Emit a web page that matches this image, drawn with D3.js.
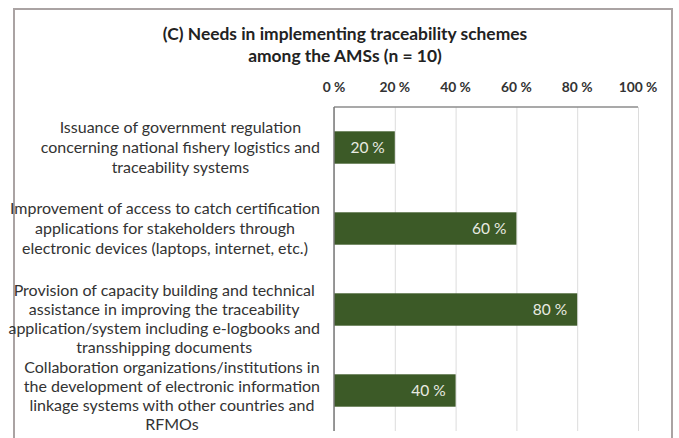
<!DOCTYPE html>
<html>
<head>
<meta charset="utf-8">
<script src="https://cdn.jsdelivr.net/npm/d3@7"></script>
<style>
  body { margin: 0; background: #fff; }
  svg { display: block; font-family: Lato, "Open Sans", sans-serif; }
  .grid line { stroke: #dcdcdc; stroke-width: 1; }
  .cat-label { fill: #333; font-size: 16px; }
  .tick-label { fill: #333; font-size: 13.8px; font-weight: bold; }
  .bar-label { fill: #e9ebe2; font-size: 15.5px; }
  .title { fill: #222; font-size: 17.4px; font-weight: bold; }
</style>
</head>
<body>
<div id="chart"></div>
<script>

// Chart data
var categories = [
    ["Issuance of government regulation", "concerning national fishery logistics and", "traceability systems"],
    ["Improvement of access to catch certification", "applications for stakeholders through", "electronic devices (laptops, internet, etc.)"],
    ["Provision of capacity building and technical", "assistance in improving the traceability", "application/system including e-logbooks and", "transshipping documents"],
    ["Collaboration organizations/institutions in", "the development of electronic information", "linkage systems with other countries and", "RFMOs"]
];
var values = [20, 60, 80, 40];
var tickValues = [0, 20, 40, 60, 80, 100];
var titleLines = ["(C) Needs in implementing traceability schemes", "among the AMSs (n = 10)"];

var W = 679, H = 438;
var margin = {top: 107, right: 41, bottom: 7, left: 334};
var width = W - margin.left - margin.right,
    height = H - margin.top - margin.bottom;

var svg = d3.select("#chart").append("svg")
    .attr("width", W)
    .attr("height", H);

// outer frame
svg.append("rect")
    .attr("x", 14).attr("y", 9)
    .attr("width", 658).attr("height", 460)
    .attr("fill", "#fff")
    .attr("stroke", "#aaa3a3")
    .attr("stroke-width", 2);

// title
svg.append("text")
    .attr("class", "title")
    .attr("text-anchor", "middle")
    .selectAll("tspan")
    .data(titleLines)
    .enter().append("tspan")
    .attr("x", 345)
    .attr("y", function(d, i) { return 40 + i * 22; })
    .text(function(d) { return d; });

var g = svg.append("g")
    .attr("transform", "translate(" + margin.left + "," + margin.top + ")");

// scales
var x = d3.scaleLinear()
    .domain([0, 100])
    .range([0, width]);
var y = d3.scaleBand()
    .domain(d3.range(values.length))
    .range([0, height])
    .paddingInner(0.6)
    .paddingOuter(0.3);

// gridlines
var grid = g.append("g")
    .attr("class", "grid")
    .call(d3.axisTop(x).tickValues(tickValues).tickSize(-height).tickFormat(""));
grid.select(".domain").remove();
grid.selectAll(".tick line").attr("stroke", "#dcdcdc");

// top axis labels
g.selectAll(".tick-label")
    .data(tickValues)
    .enter().append("text")
    .attr("class", "tick-label")
    .attr("text-anchor", "middle")
    .attr("x", function(d) { return x(d); })
    .attr("y", -15)
    .text(function(d) { return d + " %"; });

// plot frame top line
g.append("line")
    .attr("x1", x(0)).attr("x2", x(100))
    .attr("y1", 0).attr("y2", 0)
    .attr("stroke", "#8c8c8c")
    .attr("stroke-width", 1.5);

// bars
g.selectAll(".bar")
    .data(values)
    .enter().append("rect")
    .attr("class", "bar")
    .attr("x", x(0))
    .attr("y", function(d, i) { return y(i); })
    .attr("width", function(d) { return x(d) - x(0); })
    .attr("height", y.bandwidth())
    .attr("fill", "#3c5a27");

// bar labels
g.selectAll(".bar-label")
    .data(values)
    .enter().append("text")
    .attr("class", "bar-label")
    .attr("text-anchor", "end")
    .attr("x", function(d) { return x(d) - 10; })
    .attr("y", function(d, i) { return y(i) + y.bandwidth() / 2; })
    .attr("dy", "0.36em")
    .text(function(d) { return d + " %"; });

// vertical axis line
g.append("line")
    .attr("x1", x(0)).attr("x2", x(0))
    .attr("y1", 0).attr("y2", height)
    .attr("stroke", "#7a7a7a")
    .attr("stroke-width", 1.5);

// category labels: wrapped block, right aligned, lines centred in block
var labelRight = -14;
categories.forEach(function(lines, i) {
    var lineH = lines.length > 3 ? 19 : 20;
    var t = g.append("text")
        .attr("class", "cat-label")
        .attr("text-anchor", "middle");
    var spans = t.selectAll("tspan")
        .data(lines)
        .enter().append("tspan")
        .text(function(d) { return d; });
    var maxW = 0;
    spans.each(function() { maxW = Math.max(maxW, this.getComputedTextLength()); });
    var cy = y(i) + y.bandwidth() / 2;
    var y0 = cy - lineH;
    var last = y0 + (lines.length - 1) * lineH;
    if (last > height - 7) y0 -= last - (height - 7);
    spans.attr("x", labelRight - maxW / 2)
        .attr("y", function(d, j) { return y0 + j * lineH; })
        .attr("dy", "0.35em");
});

</script>
</body>
</html>
